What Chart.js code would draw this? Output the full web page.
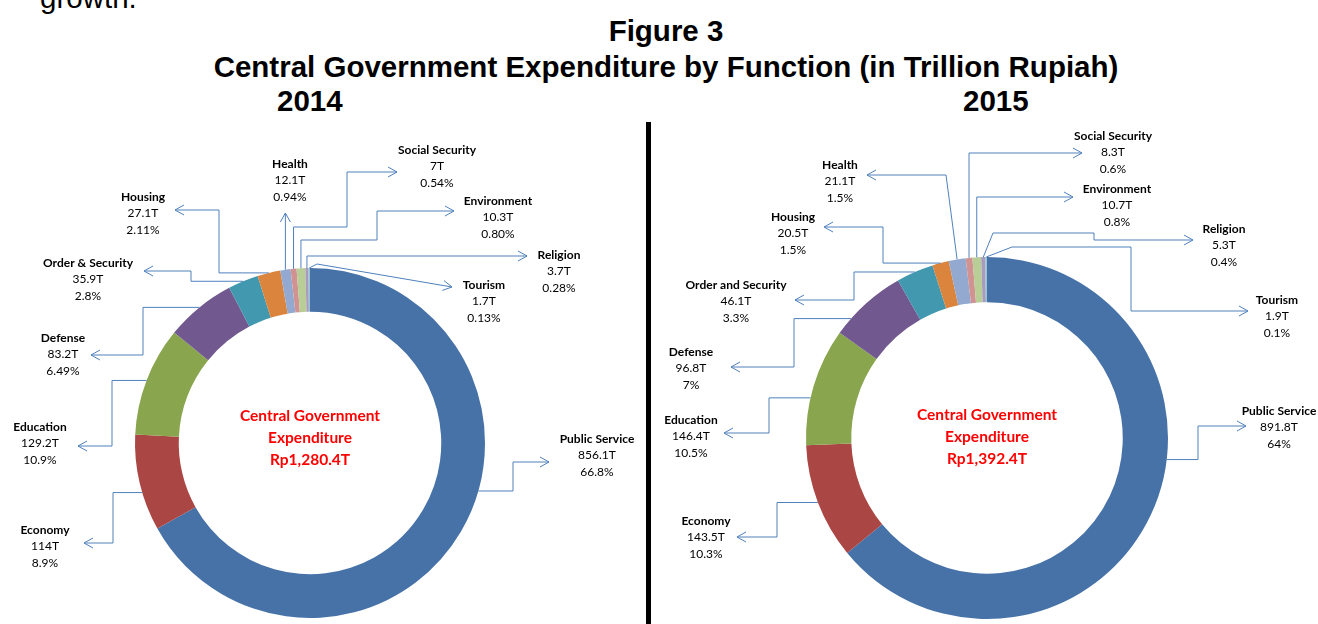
<!DOCTYPE html>
<html>
<head>
<meta charset="utf-8">
<script src="https://cdn.jsdelivr.net/npm/chart.js@4.4.0/dist/chart.umd.min.js"></script>
<style>
  body { margin: 0; width: 1318px; height: 624px; overflow: hidden; background: #fff; position: relative; }
  .head { position: absolute; font-family: "Liberation Sans", Arial, sans-serif; font-weight: bold; font-size: 29.5px; line-height: 29px; color: #000; white-space: nowrap; }
  .centered { left: 7px; width: 1318px; text-align: center; }
  #divider { position: absolute; left: 646px; top: 122px; width: 5px; height: 510px; background: #000; }
  canvas { position: absolute; left: 0; top: 0; }
</style>
</head>
<body>
<div class="head" style="left:40px; top:-17px; font-weight:normal;">growth.</div>
<div class="head centered" style="top:16px;">Figure 3</div>
<div class="head centered" style="top:52px;">Central Government Expenditure by Function (in Trillion Rupiah)</div>
<div class="head" style="left:277px; top:86px;">2014</div>
<div class="head" style="left:963px; top:86px;">2015</div>
<div id="divider"></div>
<canvas id="chart2014" width="1318" height="624"></canvas>
<canvas id="chart2015" width="1318" height="624"></canvas>
<script>
// data (trillion rupiah)
const categories2014 = ["Public Service", "Economy", "Education", "Defense", "Order & Security", "Housing", "Health", "Social Security", "Environment", "Religion", "Tourism"];
const values2014 = [856.1, 114, 129.2, 83.2, 35.9, 27.1, 12.1, 7, 10.3, 3.7, 1.7];
const shares2014 = ["66.8%", "8.9%", "10.9%", "6.49%", "2.8%", "2.11%", "0.94%", "0.54%", "0.80%", "0.28%", "0.13%"];
const total2014 = "Rp1,280.4T";

const categories2015 = ["Public Service", "Economy", "Education", "Defense", "Order and Security", "Housing", "Health", "Social Security", "Environment", "Religion", "Tourism"];
const values2015 = [891.8, 143.5, 146.4, 96.8, 46.1, 20.5, 21.1, 8.3, 10.7, 5.3, 1.9];
const shares2015 = ["64%", "10.3%", "10.5%", "7%", "3.3%", "1.5%", "1.5%", "0.6%", "0.8%", "0.4%", "0.1%"];
const total2015 = "Rp1,392.4T";

const centerTitle = ["Central Government", "Expenditure"];

const sliceColors = ["#4672A8", "#AA4643", "#89A54E", "#71588F", "#4198AF", "#DB843D", "#93A9CF", "#D19392", "#B9CD96", "#A99BBD", "#92C5D6"];
const lineColor = "#4F81BD";
const labelFont = '"Lato", "Liberation Sans", sans-serif';

// where each label sits and how its leader line bends (null = keep previous coordinate)
// f = where along the slice the leader starts (0..1), default middle
const callouts2014 = [
  { x: 597, y: 439, f: 0.44, path: [[513, null], [null, 462], [549, null]] },
  { x: 45, y: 530, f: 0.4, path: [[113, null], [null, 543], [84, null]] },
  { x: 40, y: 427, path: [[112, null], [null, 446], [78, null]] },
  { x: 63, y: 338, path: [[143, null], [null, 355], [91, null]] },
  { x: 88, y: 263, path: [[191, null], [null, 271], [144, null]] },
  { x: 143, y: 197, path: [[219, null], [null, 210], [175, null]] },
  { x: 290, y: 164, path: [[null, 213]] },
  { x: 437, y: 150, path: [[null, 227], [347, null], [null, 172], [397, null]] },
  { x: 498, y: 201, path: [[null, 240], [377, null], [null, 211], [454, null]] },
  { x: 559, y: 255, path: [[null, 256], [527, null]] },
  { x: 484, y: 285, path: [[317, 264], [452, 287]] },
];

const callouts2015 = [
  { x: 1279, y: 411, f: 0.42, path: [[1198, null], [null, 426], [1246, null]] },
  { x: 706, y: 521, path: [[777, null], [null, 537], [737, null]] },
  { x: 691, y: 420, f: 0.4, path: [[769, null], [null, 433], [724, null]] },
  { x: 691, y: 352, f: 0.23, path: [[794, null], [null, 367], [731, null]] },
  { x: 736, y: 285, path: [[854, null], [null, 300], [795, null]] },
  { x: 793, y: 217, path: [[883, null], [null, 227], [824, null]] },
  { x: 840, y: 165, path: [[946, 175], [867, null]] },
  { x: 1113, y: 136, path: [[null, 153], [1082, null]] },
  { x: 1117, y: 189, path: [[null, 197], [1073, null]] },
  { x: 1224, y: 229, path: [[993, 233], [1094, null], [null, 240], [1193, null]] },
  { x: 1277, y: 300, path: [[1012, 247], [1131, null], [null, 311], [1248, null]] },
];

// leader lines + labels + the red text in the hole
const calloutPlugin = {
  id: "callouts",
  afterDraw(chart, args, opts) {
    const ctx = chart.ctx;
    const arcs = chart.getDatasetMeta(0).data;
    const ds = chart.data.datasets[0];
    ctx.save();

    opts.items.forEach((item, i) => {
      const arc = arcs[i];
      const p = arc.getProps(["x", "y", "startAngle", "endAngle", "outerRadius"], true);
      const f = item.f === undefined ? 0.5 : item.f;
      const a = p.startAngle + f * (p.endAngle - p.startAngle);
      const pts = [[p.x + Math.cos(a) * p.outerRadius, p.y + Math.sin(a) * p.outerRadius]];
      item.path.forEach((w) => {
        const prev = pts[pts.length - 1];
        pts.push([w[0] === null ? prev[0] : w[0], w[1] === null ? prev[1] : w[1]]);
      });

      ctx.strokeStyle = lineColor;
      ctx.lineWidth = 1;
      ctx.beginPath();
      ctx.moveTo(pts[0][0], pts[0][1]);
      for (let k = 1; k < pts.length; k++) ctx.lineTo(pts[k][0], pts[k][1]);
      ctx.stroke();

      // open arrow head
      const end = pts[pts.length - 1];
      const before = pts[pts.length - 2];
      const ang = Math.atan2(end[1] - before[1], end[0] - before[0]);
      ctx.beginPath();
      ctx.moveTo(end[0] - 9 * Math.cos(ang) + 5 * Math.sin(ang), end[1] - 9 * Math.sin(ang) - 5 * Math.cos(ang));
      ctx.lineTo(end[0], end[1]);
      ctx.lineTo(end[0] - 9 * Math.cos(ang) - 5 * Math.sin(ang), end[1] - 9 * Math.sin(ang) + 5 * Math.cos(ang));
      ctx.stroke();

      ctx.fillStyle = "#000";
      ctx.textAlign = "center";
      ctx.textBaseline = "middle";
      ctx.font = "bold 12px " + labelFont;
      ctx.fillText(chart.data.labels[i], item.x, item.y);
      ctx.font = "12px " + labelFont;
      ctx.fillText(ds.data[i] + "T", item.x, item.y + 16.5);
      ctx.fillText(opts.shares[i], item.x, item.y + 33);
    });

    const c = arcs[0];
    ctx.fillStyle = "#FF0000";
    ctx.font = "bold 15.5px " + labelFont;
    ctx.textAlign = "center";
    ctx.textBaseline = "middle";
    const lines = centerTitle.concat([opts.total]);
    lines.forEach((t, k) => ctx.fillText(t, c.x, c.y + opts.centerShift + k * 22));
    ctx.restore();
  },
};

function makeDonut(id, labels, values, shares, total, items, padding, centerShift) {
  return new Chart(document.getElementById(id), {
    type: "doughnut",
    data: {
      labels: labels,
      datasets: [
        {
          data: values,
          backgroundColor: sliceColors,
          borderWidth: 0,
        },
      ],
    },
    options: {
      responsive: false,
      animation: false,
      cutout: "75%",
      layout: { padding: padding },
      plugins: {
        legend: { display: false },
        tooltip: { enabled: false },
        callouts: { items: items, shares: shares, total: total, centerShift: centerShift },
      },
    },
    plugins: [calloutPlugin],
  });
}

makeDonut("chart2014", categories2014, values2014, shares2014, total2014, callouts2014,
  { left: 135, right: 833, top: 268, bottom: 6 }, -27);
makeDonut("chart2015", categories2015, values2015, shares2015, total2015, callouts2015,
  { left: 806, right: 150, top: 257, bottom: 5 }, -23);
</script>
</body>
</html>
